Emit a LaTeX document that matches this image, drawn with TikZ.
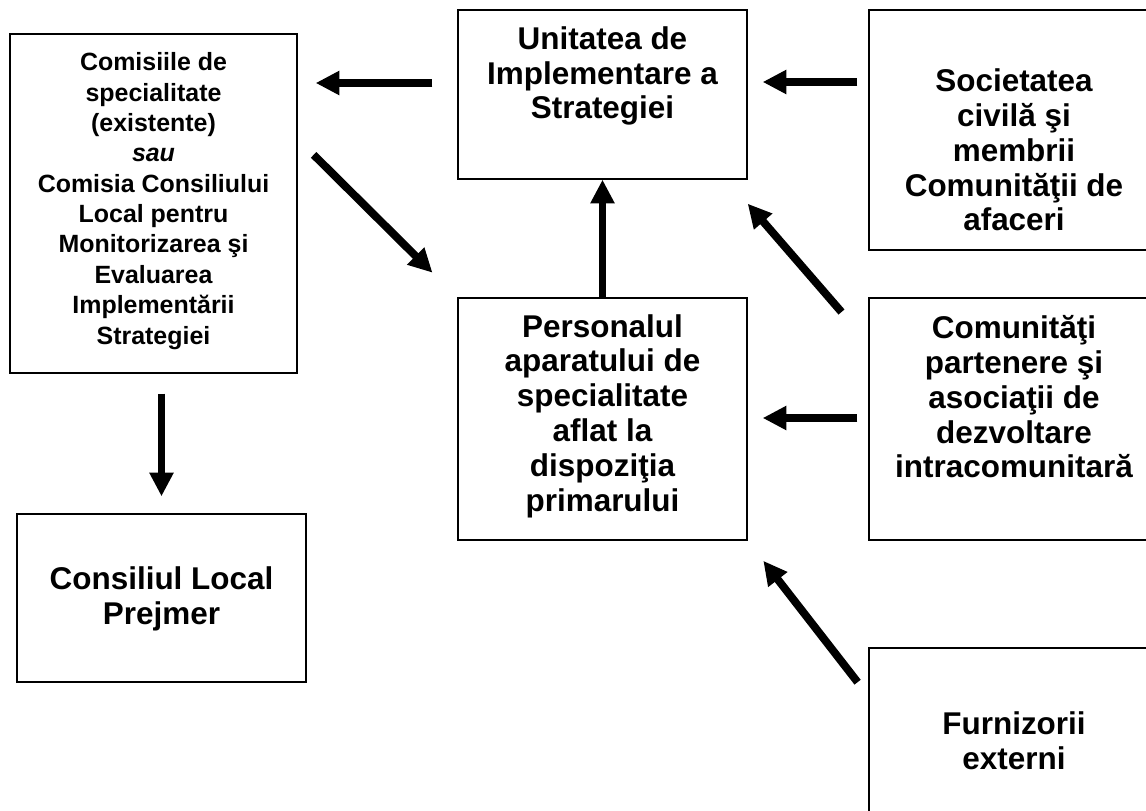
\documentclass[tikz,border=0pt]{standalone}
\usepackage{fontspec}
\setmainfont{Liberation Sans}
\usetikzlibrary{arrows.meta}

\begin{document}
\begin{tikzpicture}[x=0.02cm, y=-0.02cm,
	box/.style={draw, line width=0.8pt, inner sep=0pt},
	big/.style={font=\bfseries\fontsize{17.9}{19.8}\selectfont, align=center},
	small/.style={font=\bfseries\fontsize{14.2}{17.3}\selectfont, align=center},
	arr/.style={line width=4.5pt, -{Triangle[length=13.5pt, width=13pt]}}]

	\useasboundingbox (0,0) rectangle (1146,811);

	% boxes
	\node[box, minimum width=5.74cm, minimum height=6.78cm] (com) at (153.5,203.5) {};
	\node[box, minimum width=5.78cm, minimum height=3.38cm] (unit) at (602.5,94.5) {};
	\node[box, minimum width=5.80cm, minimum height=4.80cm] (soc) at (1014,130) {};
	\node[box, minimum width=5.78cm, minimum height=4.84cm] (pers) at (602.5,419) {};
	\node[box, minimum width=5.80cm, minimum height=4.84cm] (comu) at (1014,419) {};
	\node[box, minimum width=5.78cm, minimum height=3.36cm] (cons) at (161.5,598) {};
	\node[box, minimum width=5.80cm, minimum height=3.64cm] (fur) at (1014,739) {};

	% texts
	\node[small] (comT) at (153.5,201) {Comisiile de\\specialitate\\(existente)\\\textit{sau}\\Comisia Consiliului\\Local pentru\\Monitorizarea şi\\Evaluarea\\Implementării\\Strategiei};
	\node[big] (unitT) at (602.5,76) {Unitatea de\\Implementare a\\Strategiei};
	\node[big] (socT) at (1014,150) {Societatea\\civilă şi\\membrii\\Comunităţii de\\afaceri};
	\node[big] (persT) at (602.5,416) {Personalul\\aparatului de\\specialitate\\aflat la\\dispoziţia\\primarului};
	\node[big] (comuT) at (1014,397) {Comunităţi\\partenere şi\\asociaţii de\\dezvoltare\\intracomunitară};
	\node[big] (consT) at (161.5,599) {Consiliul Local\\Prejmer};
	\node[big] (furT) at (1014,741) {Furnizorii\\externi};

	% arrows
	\draw[arr, shorten <=0.5cm, shorten >=0.36cm] (unit.west |- 0,83) -- (com.east |- 0,83);
	\draw[arr, shorten <=0.45cm, shorten >=0.7cm] (com.east |- 0,139) -- (pers.north west);
	\draw[arr] (pers.north) -- (unit.south);
	\draw[arr, shorten <=0.22cm, shorten >=0.3cm] (soc.west |- 0,82) -- (unit.east |- 0,82);
	\draw[arr, shorten <=0.82cm] (comu.west |- 0,343) -- ([yshift=-0.48cm]unit.south east);
	\draw[arr, shorten <=0.22cm, shorten >=0.3cm] (comu.west |- 0,418) -- (pers.east |- 0,418);
	\draw[arr, shorten <=0.4cm, shorten >=0.34cm] (cons.north |- com.south) -- (cons.north);
	\draw[arr, shorten <=0.35cm, shorten >=0.51cm] (fur.west |- 0,696) -- (pers.south east);

\end{tikzpicture}
\end{document}
